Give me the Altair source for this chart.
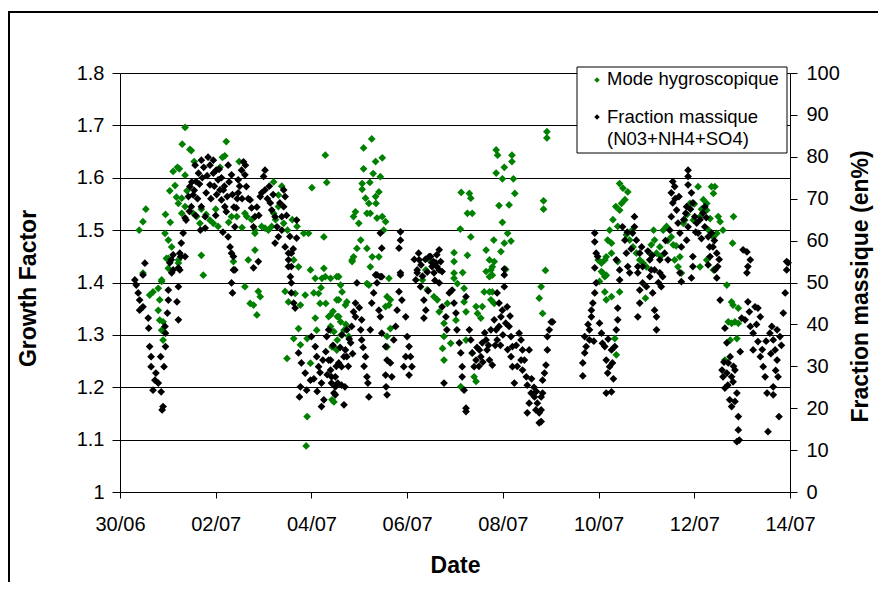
import altair as alt
import pandas as pd

# ---------------- data ----------------
date_ticks = [0, 2, 4, 6, 8, 10, 12, 14]            # days after 30/06
date_labels = ["30/06", "02/07", "04/07", "06/07", "08/07", "10/07", "12/07", "14/07"]
gf_ticks = [1.0, 1.1, 1.2, 1.3, 1.4, 1.5, 1.6, 1.7, 1.8]
fm_ticks = [0, 10, 20, 30, 40, 50, 60, 70, 80, 90, 100]
legend_labels = ["Mode hygroscopique", "Fraction massique", "(N03+NH4+SO4)"]

# Growth factor of the hygroscopic mode: (day after 30/06, growth factor)
gf_points = [
    (1.36, 1.696), (1.30, 1.664), (1.46, 1.654), (1.49, 1.652), (2.22, 1.669), (1.11, 1.612), (1.24, 1.617), (1.36, 1.605),
    (1.55, 1.631), (2.14, 1.639), (2.19, 1.642), (2.09, 1.620), (2.49, 1.631), (4.29, 1.643), (4.32, 1.591), (4.01, 1.581),
    (3.21, 1.592), (3.38, 1.584), (3.31, 1.567), (1.04, 1.575), (1.18, 1.563), (1.22, 1.551), (0.54, 1.540), (0.48, 1.516),
    (0.40, 1.500), (1.29, 1.532), (1.53, 1.532), (1.60, 1.526), (1.88, 1.519), (1.95, 1.513), (2.05, 1.507), (2.33, 1.526),
    (2.44, 1.526), (2.61, 1.532), (2.65, 1.526), (2.82, 1.500), (2.96, 1.507), (3.03, 1.504), (3.10, 1.500), (3.17, 1.507),
    (3.21, 1.532), (3.31, 1.545), (3.42, 1.513), (3.70, 1.507), (3.84, 1.494), (3.94, 1.494), (4.26, 1.487), (0.94, 1.494),
    (1.01, 1.481), (1.08, 1.468), (1.01, 1.446), (1.22, 1.443), (1.70, 1.452), (1.74, 1.414), (2.37, 1.440), (2.68, 1.443),
    (2.82, 1.462), (2.82, 1.494), (3.63, 1.443), (3.73, 1.430), (3.98, 1.424), (4.26, 1.427), (4.29, 1.411), (4.53, 1.411),
    (0.87, 1.405), (1.29, 1.561), (1.36, 1.545), (1.67, 1.513),
    (0.48, 1.418), (0.62, 1.376), (0.69, 1.382), (0.80, 1.389), (0.87, 1.402), (0.83, 1.367), (0.80, 1.347), (0.83, 1.328),
    (0.90, 1.325), (0.87, 1.309), (0.90, 1.290), (0.97, 1.446), (1.01, 1.427), (1.22, 1.437), (2.61, 1.392), (2.89, 1.383),
    (2.93, 1.373), (2.72, 1.360), (2.79, 1.357), (2.86, 1.338), (3.45, 1.383), (3.52, 1.363), (3.66, 1.379), (3.77, 1.357),
    (3.87, 1.376), (4.08, 1.408), (4.22, 1.408), (4.15, 1.379), (4.18, 1.360), (4.08, 1.332), (4.11, 1.309), (3.73, 1.312),
    (3.63, 1.293), (3.49, 1.255), (3.77, 1.281), (3.91, 1.293), (3.98, 1.246), (4.36, 1.335), (4.40, 1.316), (4.47, 1.306),
    (4.53, 1.367), (4.57, 1.335), (4.61, 1.325), (4.71, 1.357), (4.43, 1.277), (4.53, 1.271), (4.47, 1.172), (3.91, 1.144),
    (3.89, 1.088),
    (5.26, 1.674), (5.09, 1.657), (5.48, 1.638), (5.34, 1.631), (5.09, 1.617), (5.29, 1.608), (5.44, 1.602), (5.06, 1.589),
    (5.22, 1.591), (5.06, 1.578), (5.41, 1.573), (5.34, 1.564), (5.13, 1.561), (5.20, 1.551), (5.35, 1.551), (5.16, 1.532),
    (5.23, 1.532), (4.92, 1.535), (4.88, 1.526), (4.99, 1.513), (5.37, 1.523), (5.48, 1.526), (5.55, 1.516), (5.51, 1.500),
    (5.03, 1.481), (4.95, 1.465), (5.16, 1.465), (5.27, 1.449), (5.41, 1.449), (4.85, 1.443), (5.23, 1.430), (4.57, 1.411),
    (7.13, 1.572), (7.30, 1.570), (7.33, 1.561), (7.26, 1.532), (7.36, 1.532), (7.11, 1.502), (7.33, 1.487), (6.98, 1.457),
    (6.98, 1.440), (7.26, 1.452), (7.16, 1.419), (6.98, 1.418), (7.86, 1.653), (7.89, 1.643), (8.19, 1.643), (8.19, 1.631),
    (8.03, 1.620), (7.86, 1.609), (7.99, 1.598), (8.22, 1.598), (8.25, 1.570), (7.92, 1.547), (8.13, 1.548), (7.99, 1.515),
    (8.10, 1.494), (8.17, 1.479), (8.03, 1.475), (7.81, 1.481), (7.96, 1.459), (7.65, 1.462), (7.82, 1.440), (7.75, 1.424),
    (7.65, 1.421), (7.78, 1.414), (8.92, 1.688), (8.92, 1.676), (8.85, 1.556), (8.85, 1.540), (8.89, 1.423),
    (4.40, 1.408), (4.61, 1.395), (4.64, 1.382), (4.57, 1.367), (4.74, 1.363), (4.40, 1.338), (4.54, 1.335), (4.54, 1.290),
    (4.40, 1.309), (4.68, 1.309), (4.78, 1.297), (4.47, 1.277), (4.43, 1.176), (4.88, 1.449), (4.85, 1.440), (5.16, 1.398),
    (5.20, 1.395), (5.62, 1.408), (5.58, 1.373), (5.65, 1.367), (5.62, 1.357), (5.55, 1.354), (5.65, 1.312), (5.58, 1.297),
    (5.58, 1.277), (6.46, 1.443), (6.39, 1.424), (6.32, 1.405), (6.42, 1.386), (6.56, 1.373), (6.63, 1.367), (6.67, 1.344),
    (6.77, 1.322), (6.77, 1.297), (6.74, 1.274), (6.77, 1.252), (6.98, 1.408), (7.05, 1.398), (7.19, 1.389), (7.19, 1.363),
    (7.23, 1.344), (6.84, 1.360), (7.02, 1.328), (6.91, 1.284), (7.12, 1.201), (7.23, 1.290), (7.44, 1.354), (7.47, 1.341),
    (7.54, 1.332), (7.57, 1.354), (7.61, 1.382), (7.72, 1.382), (7.78, 1.382), (7.75, 1.367), (7.82, 1.360), (7.72, 1.443),
    (7.78, 1.430), (7.72, 1.411), (8.06, 1.425), (7.40, 1.220), (7.44, 1.211), (7.36, 1.265), (8.80, 1.392), (8.76, 1.370),
    (8.83, 1.341),
    (10.44, 1.589), (10.51, 1.580), (10.61, 1.573), (10.55, 1.558), (10.48, 1.551), (10.44, 1.538), (10.40, 1.507), (10.23, 1.500),
    (10.19, 1.481), (10.27, 1.475), (10.16, 1.449), (10.13, 1.443), (10.06, 1.437), (10.27, 1.456), (10.09, 1.418), (10.13, 1.411),
    (9.99, 1.443), (10.58, 1.491), (10.65, 1.481), (10.72, 1.468), (10.79, 1.456), (10.86, 1.443), (10.93, 1.437), (11.00, 1.430),
    (11.10, 1.472), (11.17, 1.481), (11.07, 1.456), (11.21, 1.456), (11.28, 1.468), (11.35, 1.500), (11.42, 1.507), (11.52, 1.487),
    (11.56, 1.472), (11.59, 1.443), (11.66, 1.430), (11.73, 1.418), (11.77, 1.513), (11.80, 1.519), (11.91, 1.551), (11.98, 1.519),
    (12.08, 1.583), (12.12, 1.526), (12.19, 1.558), (12.26, 1.551), (12.26, 1.538), (12.33, 1.522), (12.36, 1.583), (12.43, 1.583),
    (12.40, 1.570), (12.50, 1.526), (12.54, 1.516), (12.40, 1.487), (12.47, 1.494), (12.82, 1.526), (12.80, 1.475), (12.26, 1.443),
    (12.12, 1.430), (12.40, 1.424),
    (10.06, 1.421), (10.16, 1.414), (10.02, 1.402), (10.13, 1.382), (10.27, 1.373), (10.16, 1.367), (10.44, 1.382), (10.34, 1.293),
    (10.37, 1.262), (10.40, 1.440), (10.98, 1.370), (11.70, 1.449), (12.68, 1.395), (12.78, 1.363), (12.81, 1.357), (12.92, 1.351),
    (12.71, 1.325), (12.78, 1.322), (12.85, 1.325), (12.92, 1.322), (12.89, 1.293), (12.75, 1.290), (12.64, 1.252),
    (1.15, 1.585), (1.40, 1.575), (1.70, 1.540), (1.80, 1.530), (2.00, 1.540), (2.27, 1.515), (2.55, 1.505), (2.75, 1.520),
    (3.25, 1.520), (3.50, 1.500), (3.60, 1.520), (1.20, 1.620), (0.95, 1.530), (1.05, 1.515),
    (4.30, 1.360), (4.45, 1.345), (4.62, 1.300), (4.72, 1.320), (4.20, 1.390), (4.05, 1.380),
    (10.30, 1.520), (10.36, 1.545), (10.70, 1.500), (11.15, 1.500), (11.30, 1.450), (11.45, 1.480), (11.62, 1.470),
    (11.85, 1.530), (12.00, 1.550), (12.15, 1.540), (12.30, 1.500), (12.60, 1.500),
]

# Mass fraction NO3+NH4+SO4 in %: (day after 30/06, percent)
fm_points = [
    (0.52, 54.6), (0.48, 51.8), (0.31, 50.6), (0.34, 49.4), (0.38, 47.5), (0.41, 45.8), (0.41, 43.4), (0.48, 44.2), (0.59, 41.5), (0.60, 39.1),
    (0.62, 34.7), (0.65, 32.3), (0.65, 29.9), (0.75, 28.4), (0.73, 26.7), (0.69, 24.3), (0.80, 26.0), (0.86, 23.9), (0.90, 20.4), (0.88, 19.6),
    (0.85, 32.3), (0.92, 29.9), (0.95, 34.7), (0.95, 37.9), (0.94, 39.5), (0.99, 42.7), (1.01, 45.8), (1.01, 48.2), (1.08, 52.3), (1.04, 54.7),
    (1.11, 56.6), (1.19, 45.4), (1.22, 41.1), (1.25, 53.0), (1.22, 49.0), (1.27, 56.2), (1.36, 56.2),
    (2.33, 57.0), (2.37, 53.0), (2.33, 49.9), (2.35, 47.5), (2.79, 53.5), (2.89, 55.0),
    (3.52, 57.0), (3.52, 53.8), (3.56, 51.4), (3.58, 49.9), (3.58, 47.5), (3.63, 45.1), (3.66, 43.9),
    (3.73, 33.2), (3.79, 30.8), (3.87, 28.4), (3.77, 25.1), (3.75, 22.7), (3.90, 24.3), (3.98, 26.7),
    (4.00, 37.1), (4.08, 34.7), (4.11, 32.3), (4.15, 29.9), (4.21, 26.0), (4.26, 22.0), (4.21, 20.4),
    (4.36, 38.7), (4.32, 37.1), (4.36, 31.5), (4.40, 29.1), (4.42, 26.0), (4.47, 23.6), (4.50, 27.5), (4.57, 30.8), (4.68, 32.3), (4.71, 33.9),
    (4.70, 25.1), (4.74, 38.7),
    (1.84, 79.9), (1.88, 78.0), (1.95, 76.1), (1.64, 76.1), (1.59, 74.1), (1.46, 72.9), (1.43, 70.5), (1.49, 68.1), (1.36, 65.4), (1.38, 64.9),
    (1.78, 65.7), (1.78, 63.0), (1.70, 68.1), (1.80, 71.4), (2.05, 74.5), (2.09, 72.1), (2.12, 69.7), (2.19, 68.1), (2.22, 66.9), (2.43, 67.8),
    (2.58, 78.8), (2.54, 76.8), (2.61, 75.7), (2.64, 72.9), (2.47, 71.4), (2.72, 69.7), (2.75, 67.8), (2.82, 65.7), (2.79, 63.3), (2.40, 63.3),
    (2.26, 60.9), (2.30, 58.5), (2.37, 56.2), (2.40, 53.0), (3.03, 76.8), (3.00, 75.3), (2.96, 71.4), (2.93, 70.5), (3.03, 72.1), (3.14, 69.0),
    (3.17, 67.3), (3.24, 65.7), (3.28, 63.3), (3.38, 65.7), (3.42, 68.1), (3.45, 70.5), (3.42, 72.1), (3.38, 62.5), (3.31, 60.9), (3.24, 59.4),
    (3.45, 58.5), (3.58, 57.0), (3.52, 55.4), (3.58, 53.8), (3.69, 64.9), (3.69, 60.6), (1.32, 61.8), (1.28, 59.4), (1.25, 57.0), (1.07, 55.4),
    (1.11, 53.0), (1.22, 53.5), (1.57, 78.0), (1.70, 79.2), (1.95, 79.2), (2.01, 76.8), (2.26, 78.0), (2.33, 75.7), (2.16, 72.1), (1.53, 70.9),
    (1.88, 73.3), (2.47, 74.5),
    (5.44, 61.8), (5.47, 58.2), (5.37, 51.8), (5.47, 51.4), (5.86, 62.1), (5.86, 60.1), (5.83, 58.2), (5.86, 52.3), (6.25, 55.4), (6.21, 52.3),
    (6.49, 56.2), (6.52, 54.7), (6.62, 53.8), (6.67, 57.8), (6.56, 52.3), (6.73, 52.6), (8.03, 51.8), (8.03, 53.2),
    (4.40, 31.5), (4.42, 27.5), (4.50, 25.1), (4.50, 23.2), (4.68, 20.8), (4.63, 25.5), (4.63, 29.9), (4.74, 32.3), (4.82, 35.6), (4.84, 39.5),
    (4.92, 41.8), (4.92, 45.1), (4.95, 49.9), (5.05, 41.1), (5.03, 38.7), (5.05, 36.3), (5.13, 32.3), (5.16, 27.5), (5.18, 26.0), (5.20, 22.7),
    (5.23, 38.7), (5.26, 45.1), (5.30, 47.5), (5.34, 51.8), (5.37, 49.9), (5.44, 51.4), (5.41, 43.4), (5.44, 41.8), (5.47, 37.9), (5.55, 34.7),
    (5.58, 31.5), (5.55, 27.9), (5.56, 25.1), (5.58, 23.2), (5.65, 30.8), (5.68, 27.5), (5.72, 36.3), (5.76, 39.5), (5.79, 43.4), (5.83, 47.8),
    (5.86, 51.8), (5.89, 45.8), (5.97, 41.8), (6.00, 37.1), (6.04, 34.7), (6.07, 32.3), (6.10, 29.9), (6.04, 27.9), (5.97, 32.3), (5.93, 29.9),
    (6.21, 53.0), (6.18, 50.6), (6.29, 54.2), (6.28, 49.0), (6.35, 45.8), (6.39, 43.4), (6.35, 41.5), (6.46, 56.2), (6.52, 53.8), (6.60, 54.7),
    (6.67, 53.0), (6.62, 56.6), (6.67, 49.9), (6.73, 44.2), (6.81, 41.8), (6.83, 38.7), (6.88, 47.5), (6.94, 48.2), (6.98, 45.1), (7.02, 42.7),
    (7.04, 38.7), (7.09, 35.6), (7.12, 33.2), (7.15, 29.9), (7.15, 27.5), (7.19, 24.3), (7.23, 20.0), (7.23, 19.2), (6.77, 26.0), (7.23, 46.6),
    (7.30, 38.7), (7.33, 36.3), (7.36, 33.2), (7.40, 29.9), (7.44, 31.5), (7.51, 33.9), (7.54, 32.3), (7.57, 35.6), (7.65, 36.3), (7.67, 33.9),
    (7.72, 31.5), (7.78, 30.3), (7.75, 38.7), (7.82, 41.1), (7.86, 38.7), (7.88, 36.3), (7.92, 39.5), (7.96, 41.8), (7.92, 45.1), (7.88, 47.5),
    (8.03, 49.0), (7.99, 43.4), (8.06, 40.3), (8.09, 44.2), (8.13, 39.5), (8.17, 37.1), (8.20, 34.7), (8.17, 32.3), (8.20, 29.9), (8.24, 26.0),
    (8.34, 37.9), (8.38, 36.3), (8.41, 33.9), (8.38, 31.5), (8.41, 29.1), (8.49, 27.5), (8.51, 25.5), (8.55, 33.9), (8.59, 23.6), (8.55, 21.2),
    (8.51, 18.9), (8.66, 22.7), (8.69, 19.6), (8.72, 21.2), (8.76, 16.5), (8.83, 23.6), (8.83, 26.7), (8.87, 28.4), (8.90, 30.3), (8.93, 37.1),
    (8.97, 38.7), (9.01, 40.6), (8.76, 18.9),
    (8.80, 22.7), (8.80, 19.6), (8.80, 16.8), (8.93, 33.9), (9.04, 40.6),
    (9.71, 37.1), (9.74, 34.7), (9.71, 33.2), (9.67, 30.8), (9.67, 27.7), (9.81, 36.3), (9.81, 38.7), (9.85, 41.8), (9.85, 43.4), (9.88, 45.1),
    (9.92, 47.5), (9.95, 49.9), (9.92, 53.5), (9.98, 56.2), (10.02, 40.3), (10.06, 37.9), (10.13, 34.7), (10.16, 31.5), (10.19, 28.4), (10.16, 23.6),
    (10.27, 23.9), (10.23, 29.9), (10.29, 30.8), (10.27, 33.9), (10.34, 34.7), (10.37, 38.7), (10.40, 41.1), (10.40, 43.9), (10.44, 50.6), (10.44, 53.0),
    (10.37, 55.4), (10.82, 52.3), (10.86, 48.2), (10.86, 45.1), (10.82, 41.8), (10.92, 49.9), (11.00, 49.0), (11.07, 51.4), (11.10, 53.0), (11.13, 47.5),
    (11.17, 43.4), (11.21, 41.8), (11.21, 38.7), (11.31, 49.0), (11.34, 51.4), (11.28, 55.4), (11.70, 52.3), (11.73, 50.2), (11.94, 51.1), (11.97, 53.8),
    (11.97, 56.2), (12.29, 54.2), (12.33, 56.2), (12.43, 53.0), (12.47, 51.1), (12.54, 45.8), (12.64, 39.1), (12.68, 35.6), (12.58, 29.1), (12.60, 27.5),
    (12.64, 24.8), (12.68, 28.4), (12.71, 30.8), (12.75, 32.3), (12.78, 27.5), (12.81, 26.3), (12.85, 29.1), (12.89, 23.6), (12.85, 21.6), (12.78, 20.4),
    (12.92, 18.0), (12.92, 14.8), (12.94, 12.4), (12.89, 12.0), (12.96, 33.5), (12.99, 41.5), (13.06, 41.1), (13.12, 45.4), (13.17, 39.5), (13.23, 37.9),
    (13.23, 33.9), (13.27, 44.2), (13.33, 43.9), (13.38, 41.8), (13.33, 35.9), (13.38, 32.3), (13.44, 29.9), (13.48, 27.5), (13.52, 23.6), (13.58, 37.9),
    (13.62, 39.5), (13.65, 36.3), (13.69, 33.9), (13.73, 31.5), (13.75, 27.5), (13.65, 25.1), (13.65, 23.2), (13.54, 14.4), (13.77, 18.0), (13.73, 38.7),
    (13.79, 37.1), (13.86, 42.7), (13.90, 47.5), (13.93, 53.0), (13.96, 54.7),
    (9.92, 61.8), (9.92, 59.7), (9.95, 57.0), (10.50, 63.3), (10.55, 60.1), (10.58, 57.0), (10.61, 53.8), (10.65, 52.3), (10.75, 65.7), (10.75, 63.3),
    (10.79, 60.1), (10.71, 61.8), (10.86, 57.0), (10.82, 53.8), (10.92, 53.8), (11.07, 55.4), (11.17, 53.0), (11.28, 52.3), (11.38, 57.0), (11.45, 55.4),
    (11.49, 62.5), (11.52, 65.7), (11.55, 69.0), (11.52, 71.4), (11.55, 74.1), (11.59, 72.9), (11.63, 67.3), (11.66, 64.2), (11.70, 61.8), (11.73, 58.5),
    (11.84, 60.1), (11.87, 63.3), (11.84, 68.1), (11.87, 76.8), (11.87, 75.3), (11.87, 73.3), (11.94, 71.4), (11.97, 69.0), (12.01, 65.7), (12.05, 64.2),
    (12.08, 61.8), (12.18, 66.6), (12.22, 68.1), (12.22, 63.3), (12.29, 60.9), (12.36, 61.8), (12.39, 58.5), (12.47, 57.0), (12.49, 53.8), (13.02, 57.8),
    (13.10, 57.3), (13.17, 55.4), (13.12, 53.8), (13.10, 52.3), (13.93, 55.0),
    (1.45, 67.0), (1.50, 74.0), (1.55, 72.0), (1.62, 70.0), (1.66, 73.5), (1.72, 75.0), (1.75, 77.5), (1.82, 75.5), (1.90, 70.0), (1.97, 73.0),
    (2.02, 71.0), (2.07, 77.0), (2.12, 75.0), (2.18, 73.0), (2.24, 70.5), (2.28, 74.0), (2.35, 71.0), (2.38, 68.0), (2.45, 70.0), (2.50, 73.0),
    (2.55, 70.0), (2.62, 78.0), (2.68, 70.0), (2.86, 68.0), (2.90, 66.0), (3.08, 70.0), (3.12, 73.0), (3.20, 71.0), (3.34, 69.0), (3.48, 66.0),
    (3.55, 61.0), (3.62, 58.0), (1.58, 66.0), (1.68, 62.5), (2.00, 66.0), (2.15, 62.0),
    (4.05, 27.0), (4.12, 24.0), (4.18, 28.5), (4.24, 31.5), (4.30, 33.5), (4.33, 28.0), (4.45, 35.0), (4.52, 30.0), (4.55, 26.0), (4.60, 34.5),
    (4.64, 37.5), (4.77, 30.0), (4.79, 36.5), (4.86, 33.0), (4.88, 43.0), (5.00, 44.0), (5.08, 34.5), (5.10, 30.0),
    (6.15, 55.5), (6.24, 57.0), (6.32, 51.5), (6.38, 55.5), (6.42, 52.5), (6.55, 55.0), (6.58, 50.5), (6.70, 55.0), (6.44, 48.0),
    (7.46, 34.5), (7.50, 30.0), (7.58, 31.0), (7.62, 38.0), (7.70, 35.0), (7.84, 35.0), (7.95, 35.0), (8.00, 37.5), (8.10, 34.0), (8.15, 42.0),
    (8.28, 35.0), (8.30, 30.0), (8.45, 31.5), (8.60, 27.0), (8.65, 25.0), (8.70, 24.0),
    (10.60, 62.0), (10.68, 58.0), (10.90, 58.5), (11.03, 57.5), (11.12, 56.5), (11.25, 50.0), (11.40, 60.0), (11.60, 70.0), (11.68, 70.5), (11.78, 65.0),
    (11.82, 66.5), (11.92, 67.5), (12.03, 62.0), (12.12, 65.0), (12.15, 60.5), (12.25, 65.5), (12.32, 58.5), (12.42, 60.0), (12.52, 55.5),
    (12.62, 31.0), (12.70, 25.5), (12.74, 22.0), (12.82, 30.0), (13.15, 43.0), (13.30, 40.0), (13.42, 34.0), (13.50, 36.0), (13.60, 33.0), (13.70, 29.0),
    (13.82, 35.0), (9.78, 40.0), (9.90, 36.0), (10.08, 35.5), (10.20, 36.5), (10.31, 27.0),
]

# ---------------- chart ----------------
FONT = "Liberation Sans"
GREEN = "#008000"

gf_df = pd.DataFrame(gf_points, columns=["day", "gf"])
fm_df = pd.DataFrame(fm_points, columns=["day", "fm"])
one = pd.DataFrame({"k": [0]})

label_expr = "[" + ",".join("'%s'" % s for s in date_labels) + "][round(datum.value / 2)]"

x_enc = alt.X(
    "day:Q",
    scale=alt.Scale(domain=[0, 14], nice=False, zero=False),
    axis=alt.Axis(values=date_ticks, labelExpr=label_expr, title="Date", grid=False,
                  tickSize=6, labelPadding=16, labelFlush=False, labelOverlap=False,
                  titleY=80, titleBaseline="alphabetic"),
)

green = alt.Chart(gf_df).mark_point(
    shape="diamond", filled=True, size=60, color=GREEN, opacity=1, strokeWidth=0
).encode(
    x=x_enc,
    y=alt.Y("gf:Q", scale=alt.Scale(domain=[1, 1.8], nice=False, zero=False),
            axis=alt.Axis(orient="left", values=gf_ticks, format=".1~f", title="Growth Factor",
                          grid=True, tickSize=8, labelPadding=8, labelFlush=False,
                          titleAngle=270, titleX=-85, titleY=215, titleAlign="center",
                          titleBaseline="alphabetic")),
)

black = alt.Chart(fm_df).mark_point(
    shape="diamond", filled=True, size=60, color="black", opacity=1, strokeWidth=0
).encode(
    x=x_enc,
    y=alt.Y("fm:Q", scale=alt.Scale(domain=[0, 100], nice=False, zero=False),
            axis=alt.Axis(orient="right", values=fm_ticks, title="Fraction massique (en%)",
                          grid=False, tickSize=7, labelPadding=9, labelFlush=False,
                          titleAngle=270, titleX=77, titleY=213, titleAlign="center",
                          titleBaseline="alphabetic")),
)

frame = alt.Chart(one).mark_rect(fillOpacity=0, stroke="black", strokeWidth=2).encode(
    x=alt.value(-111), x2=alt.value(800), y=alt.value(-61), y2=alt.value(560)
)

legend_box = alt.Chart(one).mark_rect(fill="white", stroke="black", strokeWidth=1).encode(
    x=alt.value(457), x2=alt.value(667), y=alt.value(-6), y2=alt.value(80)
)
leg_green = alt.Chart(one).mark_point(shape="diamond", filled=True, size=30, color=GREEN, opacity=1, strokeWidth=0).encode(
    x=alt.value(477), y=alt.value(7)
)
leg_black = alt.Chart(one).mark_point(shape="diamond", filled=True, size=30, color="black", opacity=1, strokeWidth=0).encode(
    x=alt.value(477), y=alt.value(44)
)
txt_style = dict(align="left", baseline="alphabetic", font=FONT, fontSize=18.5, color="black")
leg_t1 = alt.Chart(one).mark_text(**txt_style).encode(x=alt.value(487), y=alt.value(12), text=alt.value(legend_labels[0]))
leg_t2 = alt.Chart(one).mark_text(**txt_style).encode(x=alt.value(487), y=alt.value(50), text=alt.value(legend_labels[1]))
leg_t3 = alt.Chart(one).mark_text(**txt_style).encode(x=alt.value(487), y=alt.value(72), text=alt.value(legend_labels[2]))

chart = alt.layer(
    frame, green, black, legend_box, leg_green, leg_black, leg_t1, leg_t2, leg_t3
).resolve_scale(y="independent").properties(
    width=670, height=419,
    autosize=alt.AutoSizeParams(type="none"),
    padding={"left": 112, "top": 65, "right": 88, "bottom": 90},
    background="white",
).configure_axis(
    labelFont=FONT, labelFontSize=20, labelColor="black",
    titleFont=FONT, titleFontSize=23, titleFontWeight="bold", titleColor="black",
    domainColor="black", domainWidth=1, tickColor="black", tickWidth=1,
    gridColor="black", gridWidth=1, gridOpacity=1,
).configure_view(stroke=None)

chart.save("out.html", embed_options={"renderer": "svg", "actions": False})
